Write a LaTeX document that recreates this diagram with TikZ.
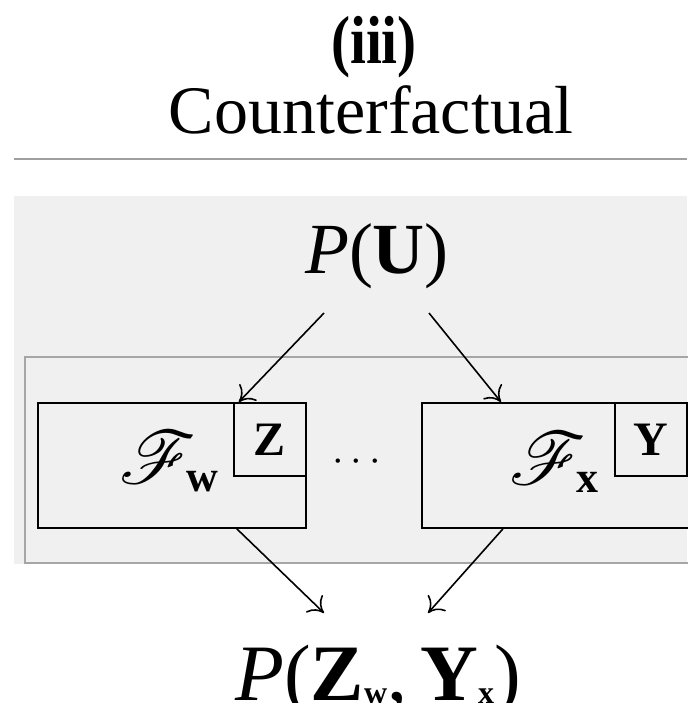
\documentclass[tikz,border=0pt]{standalone}
\usepackage{amsmath, amssymb}
\usepackage{mathrsfs}
\usepackage{fontspec}
\setmainfont{Liberation Serif}
\usepackage{tikz}
\usetikzlibrary{arrows.meta, positioning}

% bold subscript of a given size, lowered a little
\newcommand{\subbf}[3]{\raisebox{-#2}{\fontsize{#1}{#1}\selectfont\bfseries #3}}
% large script letter (rsfs stops at 24.88pt)
\newcommand{\bigscr}[1]{\scalebox{1.5}{$\mathscr{#1}$}}

\begin{document}
\begin{tikzpicture}[x=0.5pt, y=-0.5pt, >={Computer Modern Rightarrow[length=7pt, width=12pt]}]
    \tikzset{
        fbox/.style={draw, line width=0.9pt, fill=black!6, inner sep=0pt},
        arr/.style={->, line width=0.8pt},
        big/.style={font=\fontsize{34}{40}\selectfont, inner sep=0pt, anchor=base},
        mid/.style={font=\fontsize{24}{28}\selectfont\bfseries, inner sep=0pt},
        scr/.style={font=\fontsize{24.88}{26}\selectfont, inner sep=0pt},
    }
    \useasboundingbox (0,0) rectangle (687,703);

    % title
    \node[big, font=\fontsize{34}{40}\selectfont\bfseries] (num) at (374,63) {\scalebox{0.84}[1]{(iii)}};
    \node[big] (title) at (371,133) {Counterfactual};
    \draw[gray!75, line width=1pt] (14,159) -- (687,159);

    % shaded panel and frame
    \fill[black!6] (14,196) rectangle (687,564);
    \draw[gray!70, line width=1pt] (25,357) rectangle (720,563);

    % mechanisms
    \node[fbox, minimum width=134pt, minimum height=62.5pt, anchor=north west] (fw) at (37,402) {};
    \node[fbox, mid, minimum width=36pt, minimum height=36.5pt, anchor=north east] (zb) at (fw.north east) {Z};
    \node[scr] (fwl) at (169,462) {\bigscr{F}\kern-5pt\subbf{22}{4pt}{w}};

    \node[fbox, minimum width=134pt, minimum height=62.5pt, anchor=north west] (fx) at (421,402) {};
    \node[fbox, mid, minimum width=36pt, minimum height=36.5pt, anchor=north west] (yb) at (614,402) {Y};
    \node[scr] (fxl) at (554,462) {\bigscr{F}\kern-5pt\subbf{22}{4pt}{x}};

    \node[font=\fontsize{22}{22}\selectfont, inner sep=0pt] (dots) at (360,462) {$\cdots$};

    % distributions
    \node[big, font=\fontsize{36}{40}\selectfont] (pu) at (377,273) {\textit{P}(\textbf{U})};
    \node[big, font=\fontsize{40}{44}\selectfont] (pz) at (378,700)
        {\textit{P}(\textbf{Z}\subbf{16}{1.5pt}{w},\,\textbf{Y}\subbf{16}{1.5pt}{x})};

    % arrows
    \coordinate (ul) at (324,313);
    \coordinate (ur) at (429,313);
    \coordinate (dl) at (324,613);
    \coordinate (dr) at (428,613);
    \draw[arr] (ul) -- ([xshift=-34pt]fw.north east);
    \draw[arr] (ur) -- ([xshift=40pt]fx.north west);
    \draw[arr] ([xshift=-35pt]fw.south east) -- (dl);
    \draw[arr] ([xshift=41pt]fx.south west) -- (dr);
\end{tikzpicture}
\end{document}
